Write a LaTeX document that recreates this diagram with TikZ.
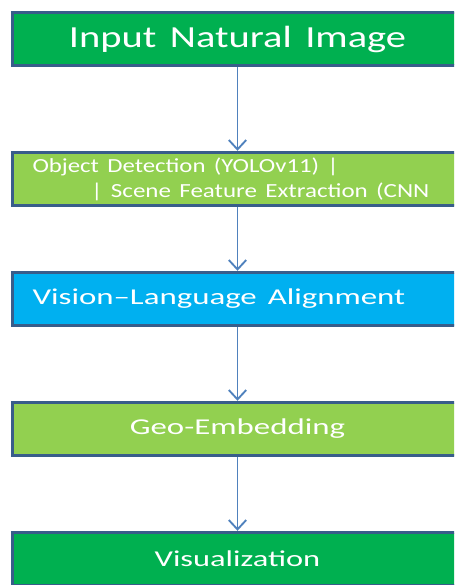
\documentclass[tikz,border=0pt]{standalone}
\usepackage{fontspec}
\setmainfont{Carlito}
\usepackage{graphicx}
\usetikzlibrary{arrows.meta}

\definecolor{boxgreen}{RGB}{0,176,80}
\definecolor{boxlime}{RGB}{146,208,80}
\definecolor{boxblue}{RGB}{0,176,240}
\definecolor{boxedge}{RGB}{56,93,138}
\definecolor{arrowblue}{RGB}{79,129,189}

\tikzset{
  stage/.style={draw=boxedge, line width=2.6pt, text=white, text width=307.5pt,
    inner xsep=15pt, inner ysep=0pt, minimum height=39.75pt},
  flow/.style={draw=arrowblue, line width=1.4pt, -{Straight Barb[length=7pt,width=13pt]}}
}

\begin{document}
\begin{tikzpicture}[x=0.75pt,y=-0.75pt]
    \clip (0,0) rectangle (454,585);

    % Blocchi della pipeline
    \node[stage, fill=boxgreen, align=center, font=\fontsize{23}{27}\selectfont] (input) at (237.5,39)
        {\scalebox{1.32}[1]{Input Natural Image}};
    \node[stage, fill=boxlime, align=left, font=\fontsize{15}{19}\selectfont] (detect) at (237.5,179)
        {\scalebox{1.24}[1]{Object Detection (YOLOv11) |}\\
         \hspace*{44pt}\scalebox{1.25}[1]{| Scene Feature Extraction (CNN}};
    \node[stage, fill=boxblue, align=left, font=\fontsize{17}{21}\selectfont] (vla) at (237.5,299)
        {\scalebox{1.45}[1]{Vision--Language Alignment}};
    \node[stage, fill=boxlime, align=center, font=\fontsize{17}{21}\selectfont] (geo) at (237.5,429)
        {\scalebox{1.45}[1]{Geo-Embedding}};
    \node[stage, fill=boxgreen, align=center, font=\fontsize{17}{21}\selectfont] (vis) at (237.5,559)
        {\scalebox{1.43}[1]{Visualization}};

    % Frecce
    \draw[flow] (input) -- (detect);
    \draw[flow] (detect) -- (vla);
    \draw[flow] (vla) -- (geo);
    \draw[flow] (geo) -- (vis);
\end{tikzpicture}
\end{document}
